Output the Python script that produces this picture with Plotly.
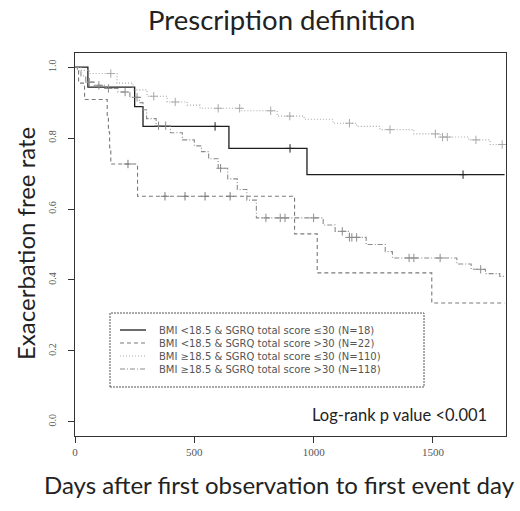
import numpy as np
import plotly.graph_objects as go

# ---------------- data ----------------
labels = [
    "BMI <18.5 & SGRQ total score \u226430 (N=18)",
    "BMI <18.5 & SGRQ total score >30 (N=22)",
    "BMI \u226518.5 & SGRQ total score \u226430 (N=110)",
    "BMI \u226518.5 & SGRQ total score >30 (N=118)",
]

s1_time = [0, 54, 250, 285, 645, 972, 1800]
s1_surv = [1.0, 0.944, 0.889, 0.833, 0.771, 0.697, 0.697]
s1_cens = [587, 901, 1626]

s2_time = [0, 15, 40, 135, 140, 145, 150, 262, 920, 1015, 1495, 1800]
s2_surv = [1.0, 0.955, 0.909, 0.864, 0.818, 0.773, 0.727, 0.636, 0.53, 0.42, 0.335, 0.335]
s2_cens = [222, 377, 461, 545, 650]

s3_time = [0, 25, 60, 176, 243, 302, 386, 470, 524, 700, 847, 960, 1081, 1180, 1278, 1420, 1530, 1650, 1740, 1800]
s3_surv = [1.0, 0.991, 0.982, 0.955, 0.936, 0.918, 0.902, 0.893, 0.884, 0.877, 0.862, 0.853, 0.842, 0.833, 0.824, 0.812, 0.803, 0.795, 0.782, 0.782]
s3_cens = [150, 330, 420, 600, 690, 820, 900, 1150, 1320, 1510, 1540, 1560, 1680, 1790]

s4_time = [0, 10, 25, 45, 80, 130, 180, 230, 270, 285, 300, 340, 400, 450, 500, 530, 560, 600, 640,
           680, 720, 760, 1040, 1090, 1150, 1220, 1300, 1330, 1600, 1660, 1720, 1780, 1800]
s4_surv = [1.0, 0.99, 0.975, 0.958, 0.949, 0.94, 0.93, 0.915, 0.90, 0.88, 0.855, 0.835, 0.815, 0.795,
           0.778, 0.762, 0.742, 0.715, 0.685, 0.655, 0.625, 0.575, 0.555, 0.537, 0.52, 0.50, 0.48, 0.462,
           0.445, 0.43, 0.418, 0.41, 0.41]
s4_cens = [60, 100, 140, 210, 260, 350, 380, 610, 800, 860, 880, 1000, 1120, 1150, 1160, 1180, 1400, 1420, 1530, 1700]

x_ticks = [0, 500, 1000, 1500]
y_ticks = [0.0, 0.2, 0.4, 0.6, 0.8, 1.0]
y_ticktext = ["0.0", "0.2", "0.4", "0.6", "0.8", "1.0"]

title_text = "Prescription definition"
x_title = "Days after first observation to first event day"
y_title = "Exacerbation free rate"
pvalue_text = "Log-rank p value <0.001"

# ---------------- styling ----------------
colors = ["#1e1e1e", "#7a7a7a", "#a9a9a9", "#8c8c8c"]
dashes = ["solid", "4px,3px", "1px,2px", "5px,2px,1px,2px"]
widths = [1.3, 1.1, 1.1, 1.1]

W, H = 520, 511
L, R, T, B = 75, 506, 53, 436  # plot area in pixels


def px(x):
    return (x - L) / (R - L)


def py(y):
    return (B - y) / (B - T)


def surv_at(times, surv, t):
    times = np.asarray(times)
    idx = np.searchsorted(times, t, side="right") - 1
    return np.asarray(surv)[idx]


series = [
    (s1_time, s1_surv, s1_cens),
    (s2_time, s2_surv, s2_cens),
    (s3_time, s3_surv, s3_cens),
    (s4_time, s4_surv, s4_cens),
]

fig = go.Figure()
for i, (t, s, c) in enumerate(series):
    fig.add_trace(go.Scatter(
        x=t, y=s, mode="lines", line_shape="hv",
        line=dict(color=colors[i], width=widths[i], dash=dashes[i]),
        name=labels[i], showlegend=False, hoverinfo="skip"))
    fig.add_trace(go.Scatter(
        x=c, y=surv_at(t, s, c), mode="markers",
        marker=dict(symbol="cross-thin", size=6, line=dict(color=colors[i], width=1)),
        showlegend=False, hoverinfo="skip"))

# ---------------- legend drawn manually (compact rows) ----------------
leg_font = 10
line_gap = 1.3 * leg_font
leg_center = 349.5
row_y = [leg_center + (k - 1.5) * line_gap for k in range(4)]

shapes = [dict(type="rect", xref="paper", yref="paper",
               x0=px(110), x1=px(424), y0=py(387), y1=py(313),
               line=dict(color="#555555", width=1, dash="2px,1px"), fillcolor="rgba(0,0,0,0)")]
for i in range(4):
    shapes.append(dict(type="line", xref="paper", yref="paper",
                       x0=px(120), x1=px(146), y0=py(row_y[i]), y1=py(row_y[i]),
                       line=dict(color=colors[i], width=widths[i], dash=dashes[i])))

annotations = [
    dict(xref="paper", yref="paper", x=px(157), y=py(leg_center), xanchor="left", yanchor="middle",
         align="left", showarrow=False, text="<br>".join(labels),
         font=dict(family="DejaVu Sans", size=leg_font, color="#555555")),
    dict(xref="paper", yref="paper", x=px(281), y=py(20), xanchor="center", yanchor="middle",
         showarrow=False, text=title_text, font=dict(family="Lato", size=27.5, color="#222222")),
    dict(xref="paper", yref="paper", x=px(279), y=py(484), xanchor="center", yanchor="middle",
         showarrow=False, text=x_title, font=dict(family="Lato", size=24, color="#222222")),
    dict(xref="paper", yref="paper", x=px(25), y=py(244), xanchor="center", yanchor="middle",
         showarrow=False, text=y_title, textangle=-90, font=dict(family="Lato", size=24, color="#222222")),
    dict(xref="paper", yref="paper", x=px(489), y=py(415), xanchor="right", yanchor="middle",
         showarrow=False, text=pvalue_text, font=dict(family="Lato", size=16.5, color="#222222")),
]

fig.update_layout(
    width=W, height=H,
    margin=dict(l=L, r=W - R, t=T, b=H - B, pad=0),
    paper_bgcolor="white", plot_bgcolor="white",
    shapes=shapes, annotations=annotations,
    showlegend=False,
)
fig.update_xaxes(range=[0, 1806], tickvals=x_ticks, ticks="outside", ticklen=6, tickcolor="#333333",
                 showline=True, mirror=True, linecolor="#333333", linewidth=1,
                 showgrid=False, zeroline=False,
                 tickfont=dict(family="Liberation Serif", size=11, color="#555555"))
fig.update_yaxes(range=[-0.04, 1.04], tickvals=y_ticks, ticktext=y_ticktext, tickangle=-90,
                 ticks="outside", ticklen=6, tickcolor="#333333", ticklabelstandoff=8,
                 showline=True, mirror=True, linecolor="#333333", linewidth=1,
                 showgrid=False, zeroline=False,
                 tickfont=dict(family="Liberation Serif", size=10, color="#555555"))

fig.write_html("out.html")
